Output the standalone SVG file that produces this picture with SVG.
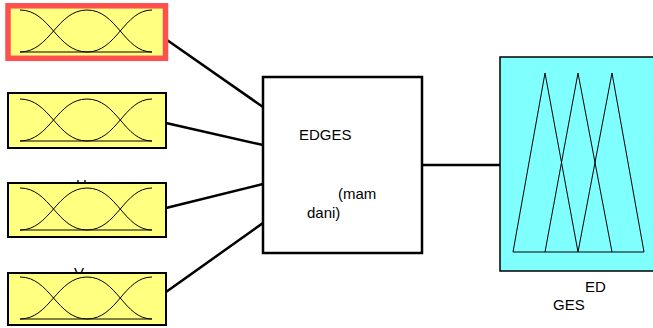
<svg xmlns="http://www.w3.org/2000/svg" xmlns:xlink="http://www.w3.org/1999/xlink" width="653" height="328" viewBox="0 0 653 328">
<style>
.in{fill:#FFFF80;stroke:#000;stroke-width:2}
.mf{fill:none;stroke:#000;stroke-width:1}
.cn{stroke:#000;stroke-width:2.5;fill:none}
.t{font-family:"Liberation Sans",Arial,sans-serif;font-size:15px;fill:#000}
</style>
<defs>
<g id="mfs">
<path class="mf" d="M20,0 C50,0 57,42 87,42"/>
<path class="mf" d="M20,42 C50,42 57,0 87,0 C117,0 124,42 152,42"/>
<path class="mf" d="M87,42 C117,42 124,0 152,0"/>
<path class="mf" d="M20,42 H152" stroke-width="1.5"/>
</g>
</defs>
<g id="connectors">
<line class="cn" x1="167" y1="40" x2="263" y2="107"/>
<line class="cn" x1="166" y1="123" x2="263" y2="145"/>
<line class="cn" x1="166" y1="208" x2="263" y2="184"/>
<line class="cn" x1="166" y1="292" x2="263" y2="223"/>
<line class="cn" x1="422" y1="165" x2="500" y2="165"/>
</g>
<g id="in1">
<rect x="8" y="5.8" width="157.5" height="52.5" fill="#FFFF80" stroke="#FF5050" stroke-width="5.5"/>
<use xlink:href="#mfs" x="0" y="10"/>
</g>
<g id="in2">
<rect class="in" x="8" y="93" width="158" height="55"/>
<use xlink:href="#mfs" x="0" y="99"/>
</g>
<g id="in3">
<text class="t" x="76" y="190">H</text>
<rect class="in" x="8" y="183" width="158" height="54"/>
<use xlink:href="#mfs" x="0" y="188"/>
</g>
<g id="in4">
<text class="t" x="74" y="278">V</text>
<rect class="in" x="8" y="273" width="158" height="52"/>
<use xlink:href="#mfs" x="0" y="277"/>
</g>
<g id="fis">
<rect x="263" y="77" width="159" height="176" fill="#fff" stroke="#000" stroke-width="2.5"/>
<text class="t" x="299" y="140">EDGES</text>
<text class="t" x="338" y="199">(mam</text>
<text class="t" x="307" y="218">dani)</text>
</g>
<g id="out">
<rect x="500" y="57" width="160" height="214" fill="#80FFFF" stroke="#000" stroke-width="1.5"/>
<path class="mf" d="M513,252 L545,73 L578,252 M545,252 L578,73 L612,252 M578,252 L612,73 L644,252 M513,252 H644"/>
<text class="t" x="585" y="292">ED</text>
<text class="t" x="553" y="310">GES</text>
</g>
</svg>
